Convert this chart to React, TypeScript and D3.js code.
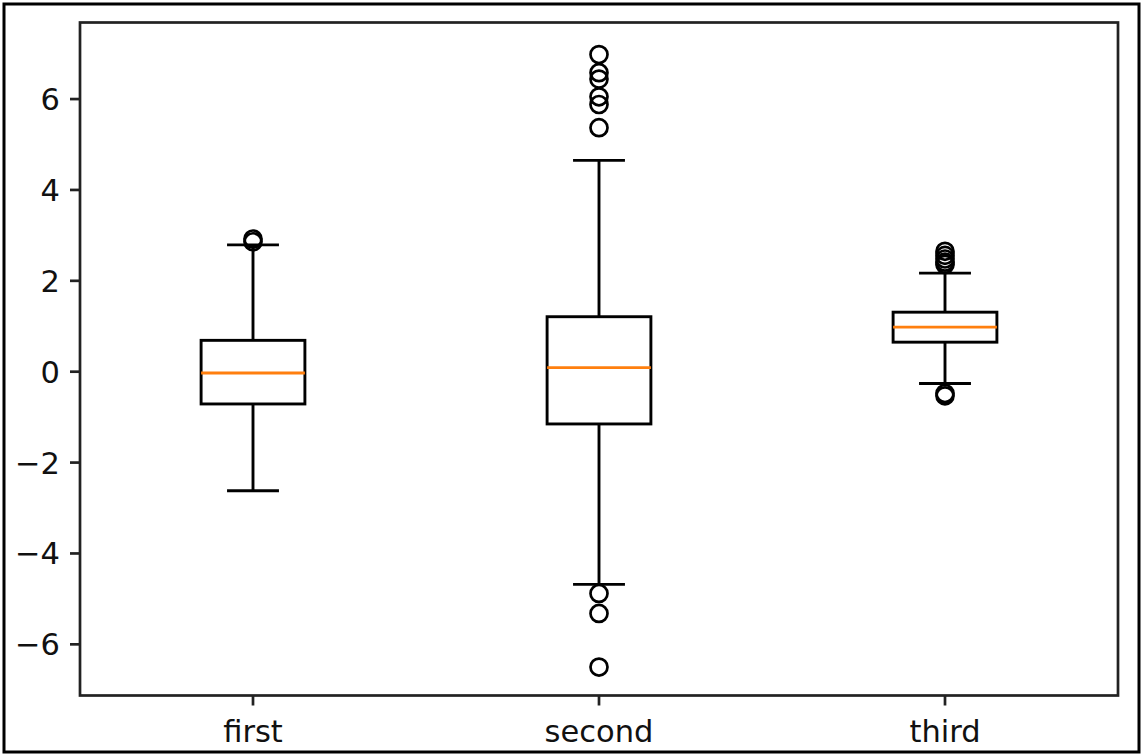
import React from 'react'
import * as d3 from 'd3'

const CATEGORIES = ['first', 'second', 'third']
const WHISKER_LOW = [-2.62, -4.68, -0.26]
const Q1 = [-0.71, -1.15, 0.65]
const MEDIAN = [-0.03, 0.09, 0.98]
const Q3 = [0.69, 1.21, 1.31]
const WHISKER_HIGH = [2.79, 4.65, 2.17]
const OUTLIERS = [
  [2.92, 2.86],
  [6.98, 6.58, 6.44, 6.05, 5.88, 5.37, -4.88, -5.32, -6.5],
  [2.65, 2.56, 2.48, 2.41, 2.36, -0.48, -0.53],
]
const Y_TICKS = [-6, -4, -2, 0, 2, 4, 6]

const W = 1141
const H = 755
const LEFT = 80
const RIGHT = 1118
const TOP = 22.5
const BOTTOM = 695.5
const FONT = 'DejaVu Sans, sans-serif'

const App = () => {
  const x = d3.scaleLinear().domain([0.5, 3.5]).range([LEFT, RIGHT])
  const y = d3.scaleLinear().domain([-7.126, 7.685]).range([BOTTOM, TOP])
  const boxHalf = x(0.15) - x(0)
  const capHalf = x(0.075) - x(0)
  const minus = (v: number) => (v < 0 ? '\u2212' + Math.abs(v) : String(v))

  return (
    <svg width={W} height={H} style={{ position: 'absolute', left: 0, top: 0, background: '#fff' }}>
      <rect x={4} y={4} width={1135} height={748} fill="#fff" stroke="#000" strokeWidth={3} />

      {CATEGORIES.map((c, i) => {
        const cx = x(i + 1)
        return (
          <g key={c} stroke="#000" strokeWidth={2.9} fill="none">
            <line x1={cx} x2={cx} y1={y(Q3[i])} y2={y(WHISKER_HIGH[i])} />
            <line x1={cx} x2={cx} y1={y(Q1[i])} y2={y(WHISKER_LOW[i])} />
            <line x1={cx - capHalf} x2={cx + capHalf} y1={y(WHISKER_HIGH[i])} y2={y(WHISKER_HIGH[i])} />
            <line x1={cx - capHalf} x2={cx + capHalf} y1={y(WHISKER_LOW[i])} y2={y(WHISKER_LOW[i])} />
            <rect x={cx - boxHalf} y={y(Q3[i])} width={boxHalf * 2} height={y(Q1[i]) - y(Q3[i])} />
            <line x1={cx - boxHalf} x2={cx + boxHalf} y1={y(MEDIAN[i])} y2={y(MEDIAN[i])} stroke="#ff7f0e" />
            {OUTLIERS[i].map((v, j) => (
              <circle key={j} cx={cx} cy={y(v)} r={8.5} strokeWidth={2.7} />
            ))}
          </g>
        )
      })}

      <rect x={LEFT} y={TOP} width={RIGHT - LEFT} height={BOTTOM - TOP} fill="none" stroke="#222" strokeWidth={2.7} />

      {Y_TICKS.map(t => (
        <g key={t}>
          <line x1={LEFT - 10} x2={LEFT} y1={y(t)} y2={y(t)} stroke="#222" strokeWidth={2.7} />
          <text x={LEFT - 20} y={y(t)} dy="0.36em" textAnchor="end" fontFamily={FONT} fontSize={30.5} fill="#111">
            {minus(t)}
          </text>
        </g>
      ))}
      {CATEGORIES.map((c, i) => (
        <g key={c}>
          <line x1={x(i + 1)} x2={x(i + 1)} y1={BOTTOM} y2={BOTTOM + 10} stroke="#222" strokeWidth={2.7} />
          <text x={x(i + 1)} y={742} textAnchor="middle" fontFamily={FONT} fontSize={30.5} fill="#111">
            {c}
          </text>
        </g>
      ))}
    </svg>
  )
}

export default App
